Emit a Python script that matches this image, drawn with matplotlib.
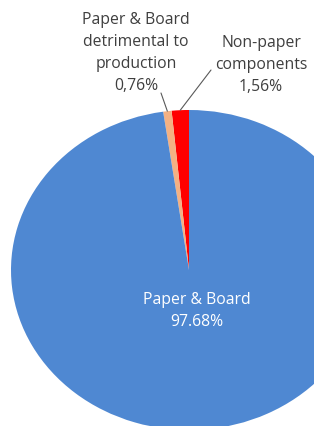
import matplotlib
matplotlib.use("Agg")
import matplotlib.pyplot as plt
import numpy as np

# slices, counter-clockwise from 12 o'clock
labels = ["Non-paper\ncomponents", "Paper & Board\ndetrimental to\nproduction", "Paper & Board"]
values = [1.56, 0.76, 97.68]
pct_text = ["1,56%", "0,76%", "97.68%"]
colors = ["#FF0000", "#F4B183", "#4F88D2"]

W, H = 314, 426
fig = plt.figure(figsize=(W / 100, H / 100), dpi=100)
plt.rcParams["font.family"] = ["Open Sans", "DejaVu Sans"]

# the pie is slightly oval in the picture: centre and half axes in pixels
cx, cy, a, b = 189, 270, 178, 160
ax = fig.add_axes([(cx - a) / W, (H - cy - b) / H, 2 * a / W, 2 * b / H])
wedges, _ = ax.pie(values, colors=colors, startangle=90, counterclock=True,
                   radius=1, wedgeprops=dict(linewidth=0))
ax.set_aspect("auto")
ax.set_xlim(-1, 1)
ax.set_ylim(-1, 1)
ax.axis("off")

# overlay in pixel coordinates for the labels
ov = fig.add_axes([0, 0, 1, 1])
ov.set_xlim(0, W)
ov.set_ylim(H, 0)
ov.axis("off")

txt = "#3F3F3F"
fs = 11.3
ls = 1.5
ov.text(136, 53, labels[1] + "\n" + pct_text[1], ha="center", va="center",
        fontsize=fs, color=txt, linespacing=ls)
ov.text(261, 65, labels[0] + "\n" + pct_text[0], ha="center", va="center",
        fontsize=fs, color=txt, linespacing=ls)
ov.text(197, 311, labels[2] + "\n" + pct_text[2], ha="center", va="center",
        fontsize=fs, color="white", linespacing=ls)

# leader lines from label to the middle of the small slices
starts = {0: (211, 70), 1: (161, 93)}
for i, (sx, sy) in starts.items():
    w = wedges[i]
    th = np.deg2rad((w.theta1 + w.theta2) / 2)
    ax.annotate("", xy=(np.cos(th), np.sin(th)), xycoords="data",
                xytext=(sx, sy), textcoords=ov.transData,
                arrowprops=dict(arrowstyle="-", color="#595959", lw=0.8,
                                shrinkA=0, shrinkB=0))

fig.savefig("out.png", dpi=100)
